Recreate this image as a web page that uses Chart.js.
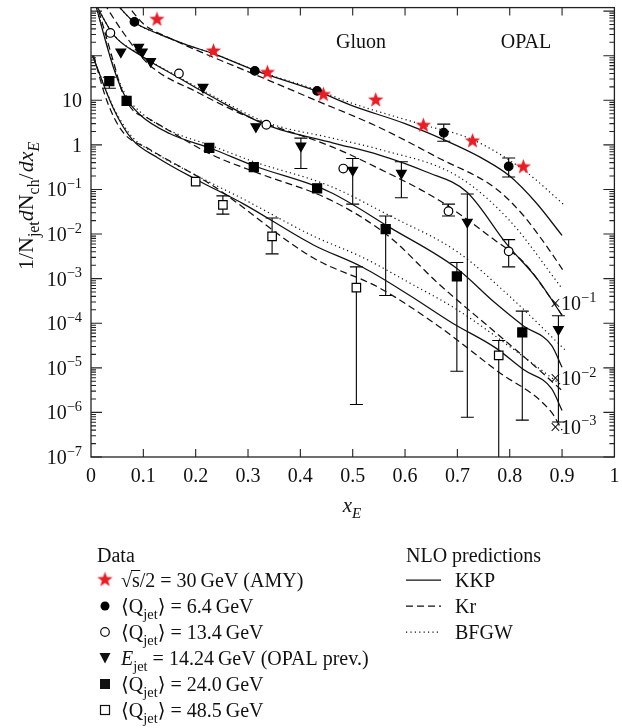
<!DOCTYPE html>
<html><head><meta charset="utf-8">
<script src="https://cdn.jsdelivr.net/npm/chart.js@4/dist/chart.umd.min.js"></script>
<style>html,body{margin:0;padding:0;background:#fff}</style>
</head><body>
<canvas id="c" width="622" height="728"></canvas>
<script>
// ---------- tick labels ----------
const xTicks = [0,0.1,0.2,0.3,0.4,0.5,0.6,0.7,0.8,0.9,1];
const xTickLabels = ['0','0.1','0.2','0.3','0.4','0.5','0.6','0.7','0.8','0.9','1'];
const yLabelExps = [1,0,-1,-2,-3,-4,-5,-6,-7];

// ---------- data points ----------
const amyX = [0.126,0.234,0.337,0.444,0.544,0.635,0.729,0.826];
const amyY = [676,132,43.5,13.9,10.5,2.83,1.27,0.334];

const q64X = [0.083,0.313,0.432,0.674,0.798];
const q64Y = [575,45.7,16.3,1.87,0.33];
const q64Lo = [null,null,null,1.21,0.19];
const q64Hi = [null,null,null,2.92,0.51];

const q134X = [0.037,0.168,0.335,0.482,0.683,0.798];
const q134Y = [324,40,2.83,0.295,0.0326,0.0041];
const q134Lo = [null,null,null,null,0.0254,0.00184];
const q134Hi = [null,null,null,null,0.047,0.0075];

const opalX = [0.057,0.091,0.098,0.114,0.214,0.315,0.401,0.5,0.593,0.719,0.893];
const opalY = [122,155,122,74.7,19.6,2.57,0.95,0.272,0.233,0.0186,7.3e-5];
const opalLo = [null,null,null,null,null,null,0.295,0.047,0.065,7.8e-7,6.1e-7];
const opalHi = [null,null,null,null,null,null,1.42,0.494,0.42,0.079,1.47e-4];

const q240X = [0.035,0.068,0.226,0.311,0.432,0.563,0.699,0.824];
const q240Y = [27,9.7,0.856,0.319,0.106,0.0129,1.12e-3,6.2e-5];
const q240Lo = [18.6,null,null,null,null,4.2e-4,8.4e-6,6.7e-7];
const q240Hi = [32.9,null,null,null,null,0.0254,2.3e-3,1.87e-4];

const q485X = [0.2,0.252,0.346,0.507,0.779];
const q485Y = [0.15,0.045,0.0089,6.3e-4,1.9e-5];
const q485Lo = [null,0.028,0.0036,1.5e-6,1e-9];
const q485Hi = [null,0.072,0.0229,1.84e-3,4.1e-5];

// ---------- NLO curves ----------
const kkp1X = [0.045,0.083,0.126,0.18,0.235,0.313,0.432,0.5,0.6,0.7,0.75,0.8,0.85,0.9];
const kkp1Y = [1600,560,320,180,110,47,16,7.5,3.0,0.95,0.48,0.2,0.051,0.0093];
const kr1X = [0.065,0.1,0.15,0.231,0.313,0.425,0.55,0.664,0.773,0.827,0.875,0.901];
const kr1Y = [1600,520,250,95,38,10.5,2.49,0.51,0.106,0.0254,0.0045,0.0016];
const bf1X = [0.045,0.083,0.126,0.18,0.235,0.313,0.432,0.5,0.631,0.729,0.827,0.906];
const bf1Y = [1600,560,320,180,110,48,17,8.5,2.9,1.31,0.27,0.043];

const kkp2X = [0.008,0.043,0.094,0.166,0.231,0.335,0.463,0.55,0.64,0.718,0.795,0.854,0.9];
const kkp2Y = [1500,295,103,32.9,12,2.8,1.1,0.6,0.25,0.088,0.0058,9.4e-4,1.5e-4];
const kr2X = [0.025,0.06,0.111,0.206,0.292,0.463,0.55,0.664,0.773,0.827,0.88,0.9];
const kr2Y = [1500,350,63,14.6,4.7,0.88,0.295,0.058,0.0071,0.0023,3.4e-4,1.5e-4];
const bf2X = [0.008,0.043,0.094,0.166,0.231,0.335,0.463,0.55,0.7,0.8,0.9];
const bf2Y = [1500,300,105,34,13,3.2,1.4,0.8,0.2,0.02,6e-4];

const kkp3X = [0.008,0.043,0.065,0.094,0.15,0.231,0.311,0.456,0.573,0.696,0.773,0.827,0.88,0.9];
const kkp3Y = [1500,53.8,12.3,4.7,1.8,0.82,0.34,0.088,0.0136,0.0018,2.8e-4,8.6e-5,3.2e-5,1.03e-5];
const kr3X = [0.015,0.045,0.06,0.08,0.108,0.231,0.31,0.463,0.569,0.664,0.773,0.856,0.901];
const kr3Y = [1000,60,15,6,4.0,0.6,0.256,0.054,0.0089,7.7e-4,6.2e-5,9e-6,3e-6];
const bf3X = [0.008,0.043,0.065,0.094,0.15,0.231,0.311,0.456,0.573,0.7,0.8,0.906];
const bf3Y = [1500,60,14,5.5,2.1,0.95,0.42,0.12,0.025,0.004,4e-4,2.5e-5];

const kkp4X = [0.003,0.043,0.079,0.128,0.2,0.292,0.425,0.519,0.609,0.691,0.773,0.827,0.88,0.9];
const kkp4Y = [100,6.5,1.31,0.51,0.17,0.047,0.0057,0.0018,4.2e-4,1.0e-4,2.8e-5,9e-6,3.4e-6,1.1e-6];
const kr4X = [0.005,0.03,0.06,0.11,0.231,0.425,0.55,0.664,0.773,0.88,0.9];
const kr4Y = [100,10,2,0.82,0.125,0.0029,6.3e-4,8.6e-5,9e-6,1e-6,4e-7];
const bf4X = [0.003,0.043,0.079,0.128,0.2,0.292,0.425,0.519,0.609,0.7,0.8,0.9];
const bf4Y = [100,7,1.5,0.6,0.21,0.06,0.009,0.003,8e-4,2e-4,3e-5,4e-6];

// ---------- helpers ----------
const SERIF = "'Liberation Serif','DejaVu Serif',serif";
const RED = '#ec1c24';
const TS = '\u2009';
const pts = (xs, ys) => xs.map((x, i) => ({x, y: ys[i]}));

function starPath(ctx, cx, cy, R, r) {
  ctx.beginPath();
  for (let i = 0; i < 10; i++) {
    const a = -Math.PI / 2 + i * Math.PI / 5;
    const rr = i % 2 ? r : R;
    const px = cx + rr * Math.cos(a), py = cy + rr * Math.sin(a);
    i ? ctx.lineTo(px, py) : ctx.moveTo(px, py);
  }
  ctx.closePath();
}
const starImg = document.createElement('canvas');
starImg.width = 17; starImg.height = 17;
{ const s = starImg.getContext('2d'); starPath(s, 8.5, 9.2, 8, 3.3); s.fillStyle = RED; s.fill(); }

function pointDS(label, xs, ys, style, filled, extra) {
  return Object.assign({
    label, data: pts(xs, ys), showLine: false,
    pointStyle: style, pointRadius: 4.3, pointBorderWidth: 1.2,
    pointBackgroundColor: filled ? '#000' : '#fff', pointBorderColor: '#000', order: 0
  }, extra || {});
}
function curveDS(label, xs, ys, dash) {
  return {
    label, data: pts(xs, ys), showLine: true, pointRadius: 0,
    borderColor: '#111', borderWidth: dash === 'dot' ? 1.2 : 1.25,
    borderDash: dash === 'dash' ? [7, 4] : (dash === 'dot' ? [1.2, 3.2] : []),
    cubicInterpolationMode: 'monotone', order: 5
  };
}

const errorSets = [
  {xs: q64X, ys: q64Y, lo: q64Lo, hi: q64Hi},
  {xs: q134X, ys: q134Y, lo: q134Lo, hi: q134Hi},
  {xs: opalX, ys: opalY, lo: opalLo, hi: opalHi},
  {xs: q240X, ys: q240Y, lo: q240Lo, hi: q240Hi},
  {xs: q485X, ys: q485Y, lo: q485Lo, hi: q485Hi}
];

function richWidth(ctx, parts, F) {
  let w = 0;
  parts.forEach(p => {
    const f = (p.sub || p.sup) ? F * 0.72 : F;
    ctx.font = (p.it ? 'italic ' : '') + f + 'px ' + SERIF;
    w += ctx.measureText(p.t).width + (p.gap || 0);
  });
  return w;
}
function drawRich(ctx, x, y, parts, F) {
  ctx.textBaseline = 'alphabetic';
  ctx.textAlign = 'left';
  parts.forEach(p => {
    const f = (p.sub || p.sup) ? F * 0.72 : F;
    ctx.font = (p.it ? 'italic ' : '') + f + 'px ' + SERIF;
    const dy = p.sub ? F * 0.28 : (p.sup ? -F * 0.42 : 0);
    ctx.fillText(p.t, x, y + dy);
    x += ctx.measureText(p.t).width + (p.gap || 0);
  });
  return x;
}

const annotations = {
  texts: [{t: 'Gluon', cx: 361, cy: 43}, {t: 'OPAL', cx: 526, cy: 43}],
  multipliers: [{x: 0.888, y: 2.8e-4, e: '−1'}, {x: 0.888, y: 5.9e-6, e: '−2'}, {x: 0.888, y: 4.8e-7, e: '−3'}]
};

const decor = {
  id: 'decor',
  beforeDatasetsDraw(chart) {
    const {ctx, chartArea: a, scales: {x: xs, y: ys}} = chart;
    ctx.save();
    ctx.beginPath(); ctx.rect(a.left, a.top, a.right - a.left, a.bottom - a.top); ctx.clip();
    ctx.strokeStyle = '#000'; ctx.lineWidth = 1.1;
    errorSets.forEach(s => {
      s.xs.forEach((xv, i) => {
        if (s.lo[i] == null) return;
        const px = xs.getPixelForValue(xv);
        const pl = ys.getPixelForValue(s.lo[i]);
        const ph = ys.getPixelForValue(s.hi[i]);
        ctx.beginPath(); ctx.moveTo(px, pl); ctx.lineTo(px, ph); ctx.stroke();
        [pl, ph].forEach(p => {
          if (p > a.bottom - 1) return;
          ctx.beginPath(); ctx.moveTo(px - 6.5, p); ctx.lineTo(px + 6.5, p); ctx.stroke();
        });
      });
    });
    ctx.restore();
  },
  afterDraw(chart) {
    const {ctx, chartArea: a, scales: {x: xs, y: ys}} = chart;
    ctx.save();
    ctx.strokeStyle = '#222'; ctx.lineWidth = 1.3;
    ctx.strokeRect(a.left, a.top, a.right - a.left, a.bottom - a.top);
    ctx.lineWidth = 1.1;
    xTicks.forEach(v => {
      const p = xs.getPixelForValue(v);
      if (p <= a.left + 1 || p >= a.right - 1) return;
      ctx.beginPath(); ctx.moveTo(p, a.bottom); ctx.lineTo(p, a.bottom - 8);
      ctx.moveTo(p, a.top); ctx.lineTo(p, a.top + 8); ctx.stroke();
    });
    for (let e = -7; e <= 3; e++) {
      for (let m = 1; m <= 9; m++) {
        const v = m * Math.pow(10, e);
        if (v < ys.min || v > ys.max) continue;
        const p = ys.getPixelForValue(v);
        const len = m === 1 ? 11 : 5;
        ctx.beginPath(); ctx.moveTo(a.left, p); ctx.lineTo(a.left + len, p);
        ctx.moveTo(a.right, p); ctx.lineTo(a.right - len, p); ctx.stroke();
      }
    }
    ctx.fillStyle = '#111';
    yLabelExps.forEach(e => {
      const p = ys.getPixelForValue(Math.pow(10, e));
      const parts = e === 0 ? [{t: '1'}] : (e === 1 ? [{t: '10'}] : [{t: '10'}, {t: '−' + (-e), sup: true}]);
      const w = richWidth(ctx, parts, 20);
      drawRich(ctx, a.left - 9 - w, p + 7, parts, 20);
    });
    drawRich(ctx, (a.left + a.right) / 2 - 10, 512, [{t: 'x', it: true}, {t: 'E', sub: true, it: true}], 21);
    ctx.save();
    ctx.translate(33, 206);
    ctx.rotate(-Math.PI / 2);
    const yt = [{t: '1/N'}, {t: 'jet', sub: true}, {t: 'd', it: true}, {t: 'N'}, {t: 'ch', sub: true},
                {t: '/', gap: 1}, {t: 'd', it: true}, {t: 'x', it: true}, {t: 'E', sub: true, it: true}];
    const yw = richWidth(ctx, yt, 22);
    drawRich(ctx, -yw / 2, 0, yt, 22);
    ctx.restore();
    ctx.font = '20px ' + SERIF; ctx.textAlign = 'center'; ctx.textBaseline = 'middle';
    annotations.texts.forEach(t => ctx.fillText(t.t, t.cx, t.cy));
    annotations.multipliers.forEach(m => {
      const px = xs.getPixelForValue(m.x), py = ys.getPixelForValue(m.y);
      drawRich(ctx, px - 6, py + 7, [{t: '×10'}, {t: m.e, sup: true}], 20);
    });
    // legend
    const F = 20;
    drawRich(ctx, 97, 562, [{t: 'Data'}], F);
    drawRich(ctx, 406, 562, [{t: 'NLO predictions'}], F);
    const rows = [580, 606, 632, 658, 684, 710];
    const sx = 105, tx = 121;
    ctx.drawImage(starImg, sx - 8.5, rows[0] - 9.5);
    ctx.fillStyle = '#111'; ctx.strokeStyle = '#111';
    let xx = drawRich(ctx, tx, rows[0] + 7, [{t: '√'}], F);
    ctx.font = F + 'px ' + SERIF;
    const sw = ctx.measureText('s').width;
    ctx.beginPath(); ctx.lineWidth = 1; ctx.moveTo(xx - 1, rows[0] - 9.5); ctx.lineTo(xx + sw + 0.5, rows[0] - 9.5); ctx.stroke();
    drawRich(ctx, xx, rows[0] + 7, [{t: 's/2 = 30' + TS + 'GeV (AMY)'}], F);
    const qrow = (y, val) => drawRich(ctx, tx, y + 7, [{t: '⟨Q'}, {t: 'jet', sub: true}, {t: '⟩ = ' + val + TS + 'GeV'}], F);
    ctx.fillStyle = '#000'; ctx.beginPath(); ctx.arc(sx, rows[1], 4.5, 0, 2 * Math.PI); ctx.fill();
    ctx.fillStyle = '#111'; qrow(rows[1], '6.4');
    ctx.beginPath(); ctx.arc(sx, rows[2], 4.3, 0, 2 * Math.PI); ctx.fillStyle = '#fff'; ctx.fill(); ctx.lineWidth = 1.2; ctx.stroke();
    ctx.fillStyle = '#111'; qrow(rows[2], '13.4');
    ctx.beginPath(); ctx.moveTo(sx - 5.5, rows[3] - 5); ctx.lineTo(sx + 5.5, rows[3] - 5); ctx.lineTo(sx, rows[3] + 5.5); ctx.closePath(); ctx.fill();
    drawRich(ctx, tx, rows[3] + 7, [{t: 'E', it: true}, {t: 'jet', sub: true}, {t: ' = 14.24' + TS + 'GeV (OPAL prev.)'}], F);
    ctx.fillRect(sx - 5, rows[4] - 5, 10, 10);
    qrow(rows[4], '24.0');
    ctx.fillStyle = '#fff'; ctx.fillRect(sx - 4.5, rows[5] - 4.5, 9, 9); ctx.strokeRect(sx - 4.5, rows[5] - 4.5, 9, 9);
    ctx.fillStyle = '#111'; qrow(rows[5], '48.5');
    const lx0 = 406, lx1 = 441;
    [['KKP', []], ['Kr', [7, 4]], ['BFGW', [1.2, 3.2]]].forEach((r, i) => {
      ctx.setLineDash(r[1]); ctx.lineWidth = 1.25;
      ctx.beginPath(); ctx.moveTo(lx0, rows[i]); ctx.lineTo(lx1, rows[i]); ctx.stroke();
      ctx.setLineDash([]);
      drawRich(ctx, 455, rows[i] + 7, [{t: r[0]}], F);
    });
    ctx.restore();
  }
};

new Chart(document.getElementById('c'), {
  type: 'scatter',
  data: {
    datasets: [
      pointDS('AMY', amyX, amyY, starImg, true),
      pointDS('<Qjet>=6.4', q64X, q64Y, 'circle', true, {pointRadius: 4.3}),
      pointDS('<Qjet>=13.4', q134X, q134Y, 'circle', false, {pointRadius: 4.3}),
      pointDS('Ejet=14.24', opalX, opalY, 'triangle', true, {pointRadius: 5.6, pointRotation: 180}),
      pointDS('<Qjet>=24.0', q240X, q240Y, 'rect', true, {pointRadius: 6.4}),
      pointDS('<Qjet>=48.5', q485X, q485Y, 'rect', false, {pointRadius: 6.0}),
      curveDS('KKP 1', kkp1X, kkp1Y, 'solid'), curveDS('Kr 1', kr1X, kr1Y, 'dash'), curveDS('BFGW 1', bf1X, bf1Y, 'dot'),
      curveDS('KKP 2', kkp2X, kkp2Y, 'solid'), curveDS('Kr 2', kr2X, kr2Y, 'dash'), curveDS('BFGW 2', bf2X, bf2Y, 'dot'),
      curveDS('KKP 3', kkp3X, kkp3Y, 'solid'), curveDS('Kr 3', kr3X, kr3Y, 'dash'), curveDS('BFGW 3', bf3X, bf3Y, 'dot'),
      curveDS('KKP 4', kkp4X, kkp4Y, 'solid'), curveDS('Kr 4', kr4X, kr4Y, 'dash'), curveDS('BFGW 4', bf4X, bf4Y, 'dot')
    ]
  },
  options: {
    responsive: false, animation: false, devicePixelRatio: 1,
    layout: {padding: {left: 0, top: 6, right: 5, bottom: 241}},
    plugins: {legend: {display: false}, tooltip: {enabled: false}},
    scales: {
      x: {
        type: 'linear', min: 0, max: 1,
        grid: {display: false}, border: {display: false},
        afterBuildTicks: s => { s.ticks = xTicks.map(v => ({value: v})); },
        afterFit: s => { s.height = 30; },
        ticks: {
          autoSkip: false, maxRotation: 0, padding: 0, color: '#111',
          font: {family: SERIF, size: 20},
          callback: (v, i) => xTickLabels[i]
        }
      },
      y: {
        type: 'logarithmic', min: 1e-7, max: 1200,
        grid: {display: false}, border: {display: false},
        afterFit: s => { s.width = 91; },
        ticks: {display: false}
      }
    }
  },
  plugins: [decor]
});
</script>
</body></html>
